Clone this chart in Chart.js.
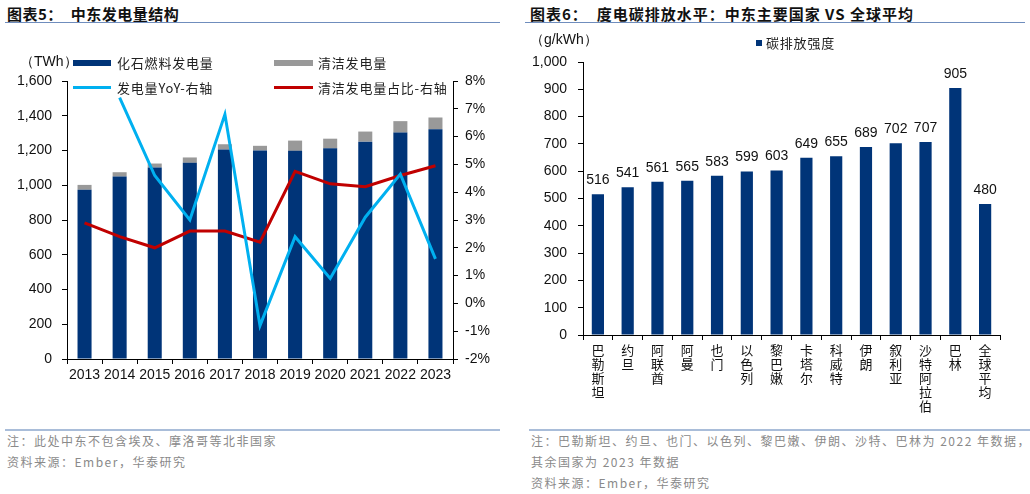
<!DOCTYPE html>
<html>
<head>
<meta charset="utf-8">
<script src="https://cdn.jsdelivr.net/npm/chart.js@4.4.1/dist/chart.umd.min.js"></script>
<style>
  body { margin: 0; width: 1030px; height: 494px; background: #fff; position: relative; overflow: hidden;
         font-family: "Liberation Sans", "Noto Sans CJK SC", sans-serif; }
  .abs { position: absolute; white-space: nowrap; }
  .title { font-family: "Noto Sans CJK SC", sans-serif; font-weight: bold; font-size: 15px; color: #111; top: 3px; }
  .rule { position: absolute; height: 0; }
  .note { font-family: "Noto Sans CJK SC", sans-serif; font-size: 12px; color: #8a8a8a; letter-spacing: 1.5px; }
  .leg { font-family: "Noto Sans CJK SC", sans-serif; font-size: 13px; color: #222; letter-spacing: 0.8px; }
  .unit { font-family: "Liberation Sans", sans-serif; font-size: 14px; color: #111; }
  canvas { position: absolute; top: 0; }
</style>
</head>
<body>
<div class="abs title" style="left:7px;letter-spacing:0.5px">图表5：&nbsp;&nbsp;中东发电量结构</div>
<div class="abs title" style="left:530px;letter-spacing:1px">图表6：&nbsp;&nbsp;度电碳排放水平：中东主要国家 VS 全球平均</div>
<div class="rule" style="left:5px;width:495px;top:22px;border-top:1.5px solid #6f8dbd"></div>
<div class="rule" style="left:525px;width:500px;top:22px;border-top:1.5px solid #6f8dbd"></div>

<canvas id="left" width="510" height="420" style="left:0"></canvas>
<canvas id="right" width="510" height="420" style="left:520px"></canvas>

<!-- left legend -->
<div class="abs unit" style="left:20px;top:53px">（TWh）</div>
<div class="abs" style="left:73px;top:60px;width:38px;height:6px;background:#003478"></div>
<div class="abs leg" style="left:117px;top:53px">化石燃料发电量</div>
<div class="abs" style="left:274px;top:60px;width:39px;height:6px;background:#999"></div>
<div class="abs leg" style="left:318px;top:53px">清洁发电量</div>
<div class="abs" style="left:73px;top:86px;width:38px;height:3px;background:#00b0f0"></div>
<div class="abs leg" style="left:117px;top:78px">发电量YoY-右轴</div>
<div class="abs" style="left:274px;top:86px;width:39px;height:3px;background:#c00000"></div>
<div class="abs leg" style="left:318px;top:78px">清洁发电量占比-右轴</div>

<!-- right legend -->
<div class="abs unit" style="left:530px;top:31px">（g/kWh）</div>
<div class="abs" style="left:756px;top:40px;width:6px;height:6px;background:#003478"></div>
<div class="abs leg" style="left:766px;top:33px">碳排放强度</div>

<!-- footers -->
<div class="rule" style="left:5px;width:495px;top:429px;border-top:2px solid #a9bdd9"></div>
<div class="rule" style="left:529px;width:501px;top:429px;border-top:2px solid #a9bdd9"></div>
<div class="abs note" style="left:7px;top:432px">注：此处中东不包含埃及、摩洛哥等北非国家</div>
<div class="abs note" style="left:7px;top:453px">资料来源：Ember，华泰研究</div>
<div class="abs note" style="left:531px;top:432px">注：巴勒斯坦、约旦、也门、以色列、黎巴嫩、伊朗、沙特、巴林为 2022 年数据，</div>
<div class="abs note" style="left:531px;top:453px">其余国家为 2023 年数据</div>
<div class="abs note" style="left:531px;top:474px">资料来源：Ember，华泰研究</div>

<script>
// 图表5 data
var years = ["2013", "2014", "2015", "2016", "2017", "2018", "2019", "2020", "2021", "2022", "2023"];
var fossil = [974, 1050, 1102, 1129, 1206, 1200, 1198, 1213, 1251, 1303, 1322];
var clean = [28, 25, 23, 31, 30, 27, 59, 55, 58, 66, 68];
var yoy = [null, 7.4, 4.6, 3.0, 6.8, -0.8, 2.4, 0.9, 3.1, 4.65, 1.6];
var cleanShare = [2.9, 2.4, 2.0, 2.6, 2.6, 2.2, 4.75, 4.3, 4.2, 4.6, 4.95];
var leftTicks = { min: 0, max: 1600, step: 200 };
var rightTicks = { min: -2, max: 8, step: 1 };

// 图表6 data
var countries = ["巴勒斯坦", "约旦", "阿联酋", "阿曼", "也门", "以色列", "黎巴嫩", "卡塔尔", "科威特", "伊朗", "叙利亚", "沙特阿拉伯", "巴林", "全球平均"];
var intensity = [516, 541, 561, 565, 583, 599, 603, 649, 655, 689, 702, 707, 905, 480];
var intensityTicks = { min: 0, max: 1000, step: 100 };

var navy = "#003478";
var tickFont = { family: "Liberation Sans", size: 14 };

function axisBase() {
  return {
    grid: { drawOnChartArea: false, drawTicks: true, tickLength: 5, color: "#000" },
    border: { color: "#000", width: 1 },
    ticks: { color: "#111", font: tickFont }
  };
}

// left chart
var lx = axisBase();
lx.stacked = true;
lx.ticks.padding = 3;
lx.ticks.maxRotation = 0;
lx.afterFit = function (s) { s.height = 61; };

var ly = axisBase();
ly.stacked = true;
ly.min = leftTicks.min; ly.max = leftTicks.max;
ly.ticks.stepSize = leftTicks.step;
ly.ticks.padding = 10;
ly.ticks.callback = function (v) { return v.toLocaleString("en-US"); };
ly.afterFit = function (s) { s.width = 67; };

var ry = axisBase();
ry.position = "right";
ry.stacked = false;
ry.min = rightTicks.min; ry.max = rightTicks.max;
ry.ticks.stepSize = rightTicks.step;
ry.ticks.padding = 7;
ry.ticks.callback = function (v) { return v + "%"; };
ry.afterFit = function (s) { s.width = 57; };

new Chart(document.getElementById("left"), {
  type: "bar",
  data: {
    labels: years,
    datasets: [
      { type: "line", label: "发电量YoY-右轴", data: yoy, yAxisID: "y1", borderColor: "#00b0f0",
        borderWidth: 3, pointRadius: 0, tension: 0, order: 0 },
      { type: "line", label: "清洁发电量占比-右轴", data: cleanShare, yAxisID: "y1", borderColor: "#c00000",
        borderWidth: 3, pointRadius: 0, tension: 0, order: 0 },
      { label: "化石燃料发电量", data: fossil, backgroundColor: navy, yAxisID: "y", order: 1,
        categoryPercentage: 1, barPercentage: 0.4 },
      { label: "清洁发电量", data: clean, backgroundColor: "#999999", yAxisID: "y", order: 1,
        categoryPercentage: 1, barPercentage: 0.4 }
    ]
  },
  options: {
    responsive: false,
    animation: false,
    layout: { padding: { top: 81, left: 0, right: 0, bottom: 0 } },
    plugins: { legend: { display: false }, tooltip: { enabled: false } },
    scales: { x: lx, y: ly, y1: ry }
  }
});

// right chart
var valueLabels = {
  id: "valueLabels",
  afterDatasetsDraw: function (chart) {
    var ctx = chart.ctx;
    var meta = chart.getDatasetMeta(0);
    ctx.save();
    ctx.font = "14px 'Liberation Sans'";
    ctx.fillStyle = "#111";
    ctx.textAlign = "center";
    ctx.textBaseline = "bottom";
    meta.data.forEach(function (bar, i) {
      ctx.fillText(chart.data.datasets[0].data[i], bar.x, bar.y - 7);
    });
    ctx.restore();
  }
};

var bx = axisBase();
bx.ticks.padding = 3;
bx.ticks.maxRotation = 0;
bx.ticks.autoSkip = false;
bx.ticks.font = { family: "Noto Sans CJK SC", size: 13, lineHeight: 1.07 };
bx.afterFit = function (s) { s.height = 85; };

var by = axisBase();
by.min = intensityTicks.min; by.max = intensityTicks.max;
by.ticks.stepSize = intensityTicks.step;
by.ticks.padding = 11;
by.ticks.callback = function (v) { return v.toLocaleString("en-US"); };
by.afterFit = function (s) { s.width = 63; };

new Chart(document.getElementById("right"), {
  type: "bar",
  data: {
    labels: countries.map(function (c) { return c.split(""); }),
    datasets: [
      { label: "碳排放强度", data: intensity, backgroundColor: navy, categoryPercentage: 1, barPercentage: 0.41 }
    ]
  },
  options: {
    responsive: false,
    animation: false,
    layout: { padding: { top: 62, left: 0, right: 30, bottom: 0 } },
    plugins: { legend: { display: false }, tooltip: { enabled: false } },
    scales: { x: bx, y: by }
  },
  plugins: [valueLabels]
});
</script>
</body>
</html>
